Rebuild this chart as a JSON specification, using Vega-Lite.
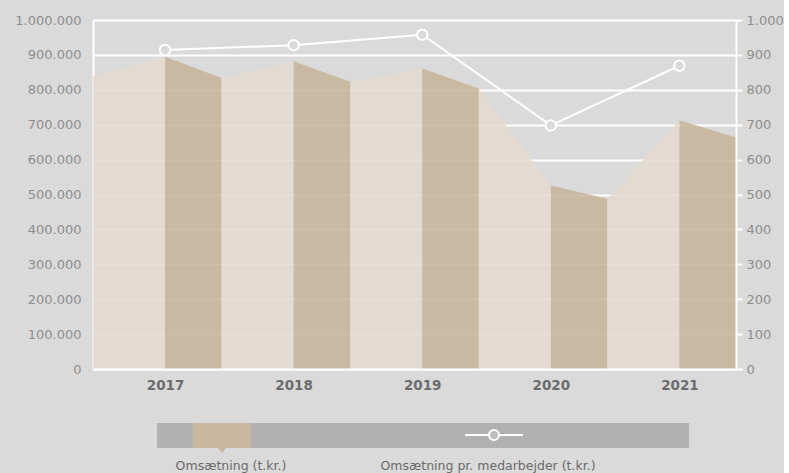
{
  "$schema": "https://vega.github.io/schema/vega-lite/v6.json",
  "background": "#dadada",
  "padding": {"left": 14, "top": 14, "right": 0, "bottom": 0},
  "config": {
    "view": {"stroke": null},
    "font": "DejaVu Sans",
    "concat": {"spacing": 26}
  },
  "datasets": {
    "omsaetning": [
      {"aar": 2016.44, "omsaetning": 839000, "flade": "lys", "segment": "2017 lys"},
      {"aar": 2017, "omsaetning": 895000, "flade": "lys", "segment": "2017 lys"},
      {"aar": 2017, "omsaetning": 895000, "flade": "mørk", "segment": "2017 mørk"},
      {"aar": 2017.44, "omsaetning": 834000, "flade": "mørk", "segment": "2017 mørk"},
      {"aar": 2017.44, "omsaetning": 834000, "flade": "lys", "segment": "2018 lys"},
      {"aar": 2018, "omsaetning": 882000, "flade": "lys", "segment": "2018 lys"},
      {"aar": 2018, "omsaetning": 882000, "flade": "mørk", "segment": "2018 mørk"},
      {"aar": 2018.44, "omsaetning": 823000, "flade": "mørk", "segment": "2018 mørk"},
      {"aar": 2018.44, "omsaetning": 823000, "flade": "lys", "segment": "2019 lys"},
      {"aar": 2019, "omsaetning": 861000, "flade": "lys", "segment": "2019 lys"},
      {"aar": 2019, "omsaetning": 861000, "flade": "mørk", "segment": "2019 mørk"},
      {"aar": 2019.44, "omsaetning": 804000, "flade": "mørk", "segment": "2019 mørk"},
      {"aar": 2019.44, "omsaetning": 804000, "flade": "lys", "segment": "2020 lys"},
      {"aar": 2020, "omsaetning": 526000, "flade": "lys", "segment": "2020 lys"},
      {"aar": 2020, "omsaetning": 526000, "flade": "mørk", "segment": "2020 mørk"},
      {"aar": 2020.44, "omsaetning": 488000, "flade": "mørk", "segment": "2020 mørk"},
      {"aar": 2020.44, "omsaetning": 488000, "flade": "lys", "segment": "2021 lys"},
      {"aar": 2021, "omsaetning": 713000, "flade": "lys", "segment": "2021 lys"},
      {"aar": 2021, "omsaetning": 713000, "flade": "mørk", "segment": "2021 mørk"},
      {"aar": 2021.44, "omsaetning": 663000, "flade": "mørk", "segment": "2021 mørk"}
    ],
    "medarbejder": [
      {"aar": 2017, "pr_medarbejder": 914},
      {"aar": 2018, "pr_medarbejder": 928},
      {"aar": 2019, "pr_medarbejder": 958},
      {"aar": 2020, "pr_medarbejder": 698},
      {"aar": 2021, "pr_medarbejder": 869}
    ]
  },
  "vconcat": [
    {
      "width": 643,
      "height": 349,
      "layer": [
        {
          "data": {"name": "omsaetning"},
          "mark": {"type": "area", "opacity": 0.86, "interpolate": "linear"},
          "encoding": {
            "x": {
              "field": "aar", "type": "quantitative",
              "scale": {"domain": [2016.44, 2021.44], "nice": false, "zero": false},
              "axis": {
                "values": [2017, 2018, 2019, 2020, 2021], "format": "d", "title": null,
                "grid": false, "ticks": false, "tickSize": 0,
                "domainColor": "#ffffff", "domainWidth": 2,
                "labelFont": "DejaVu Sans", "labelFontWeight": "bold", "labelFontSize": 13.5,
                "labelColor": "#6c6c6c", "labelPadding": 9, "zindex": 1
              }
            },
            "y": {
              "field": "omsaetning", "type": "quantitative", "stack": null,
              "scale": {"domain": [0, 1000000], "nice": false},
              "axis": {
                "title": null,
                "values": [0, 100000, 200000, 300000, 400000, 500000, 600000, 700000, 800000, 900000, 1000000],
                "labelExpr": "replace(replace(format(datum.value, ','), ',', '.'), ',', '.')",
                "labelOverlap": false,
                "grid": true, "gridColor": "#ffffff", "gridWidth": 2,
                "ticks": false, "tickSize": 0,
                "domainColor": "#ffffff", "domainWidth": 2,
                "labelFont": "DejaVu Sans", "labelColor": "#8e8e8e", "labelFontSize": 13,
                "labelPadding": 12, "zindex": 0
              }
            },
            "detail": {"field": "segment"},
            "color": {
              "field": "flade", "type": "nominal",
              "scale": {"domain": ["lys", "mørk"], "range": ["#e4dbcf", "#c6b398"]},
              "legend": null
            }
          }
        },
        {
          "data": {"name": "medarbejder"},
          "mark": {
            "type": "line", "color": "#ffffff", "strokeWidth": 2,
            "point": {"filled": true, "fill": "#dadada", "stroke": "#ffffff", "strokeWidth": 2, "size": 110, "opacity": 1}
          },
          "encoding": {
            "x": {"field": "aar", "type": "quantitative"},
            "y": {
              "field": "pr_medarbejder", "type": "quantitative",
              "scale": {"domain": [0, 1000], "nice": false},
              "axis": {
                "orient": "right", "title": null,
                "values": [0, 100, 200, 300, 400, 500, 600, 700, 800, 900, 1000],
                "labelExpr": "replace(format(datum.value, ','), ',', '.')",
                "labelOverlap": false,
                "grid": false,
                "tickColor": "#ffffff", "tickSize": 6, "tickWidth": 2,
                "domainColor": "#ffffff", "domainWidth": 2,
                "labelFont": "DejaVu Sans", "labelColor": "#8e8e8e", "labelFontSize": 13,
                "labelPadding": 4, "zindex": 1
              }
            }
          }
        }
      ],
      "resolve": {"scale": {"y": "independent"}}
    },
    {
      "width": 643,
      "height": 55,
      "data": {"values": [{"legende": "Omsætning"}]},
      "layer": [
        {
          "mark": {"type": "rect", "color": "#b1b1b1"},
          "encoding": {
            "x": {"datum": 0.0995, "type": "quantitative", "scale": {"domain": [0, 1], "nice": false, "zero": false}, "axis": null},
            "x2": {"datum": 0.927},
            "y": {"datum": 0.09, "type": "quantitative", "scale": {"domain": [0, 1], "nice": false, "reverse": true}, "axis": null},
            "y2": {"datum": 0.545}
          }
        },
        {
          "mark": {"type": "rect", "color": "#c9b79f"},
          "encoding": {
            "x": {"datum": 0.1555, "type": "quantitative"},
            "x2": {"datum": 0.2457},
            "y": {"datum": 0.09, "type": "quantitative"},
            "y2": {"datum": 0.545}
          }
        },
        {
          "mark": {"type": "point", "shape": "M-1,-0.6L1,-0.6L0,0.6Z", "filled": true, "color": "#c9b79f", "opacity": 1, "size": 100},
          "encoding": {
            "x": {"datum": 0.2006, "type": "quantitative"},
            "y": {"datum": 0.58, "type": "quantitative"}
          }
        },
        {
          "mark": {"type": "rule", "color": "#ffffff", "strokeWidth": 2},
          "encoding": {
            "x": {"datum": 0.5785, "type": "quantitative"},
            "x2": {"datum": 0.6687},
            "y": {"datum": 0.31, "type": "quantitative"}
          }
        },
        {
          "mark": {"type": "point", "shape": "circle", "filled": true, "fill": "#bdbdbd", "stroke": "#ffffff", "strokeWidth": 2, "size": 100, "opacity": 1},
          "encoding": {
            "x": {"datum": 0.6236, "type": "quantitative"},
            "y": {"datum": 0.31, "type": "quantitative"}
          }
        },
        {
          "mark": {"type": "text", "align": "center", "baseline": "middle", "font": "DejaVu Sans", "fontSize": 12.5, "color": "#6a6a6a"},
          "encoding": {
            "x": {"datum": 0.2146, "type": "quantitative"},
            "y": {"datum": 0.87, "type": "quantitative"},
            "text": {"value": "Omsætning (t.kr.)"}
          }
        },
        {
          "mark": {"type": "text", "align": "center", "baseline": "middle", "font": "DejaVu Sans", "fontSize": 12.5, "color": "#6a6a6a"},
          "encoding": {
            "x": {"datum": 0.6143, "type": "quantitative"},
            "y": {"datum": 0.87, "type": "quantitative"},
            "text": {"value": "Omsætning pr. medarbejder (t.kr.)"}
          }
        }
      ]
    }
  ]
}
